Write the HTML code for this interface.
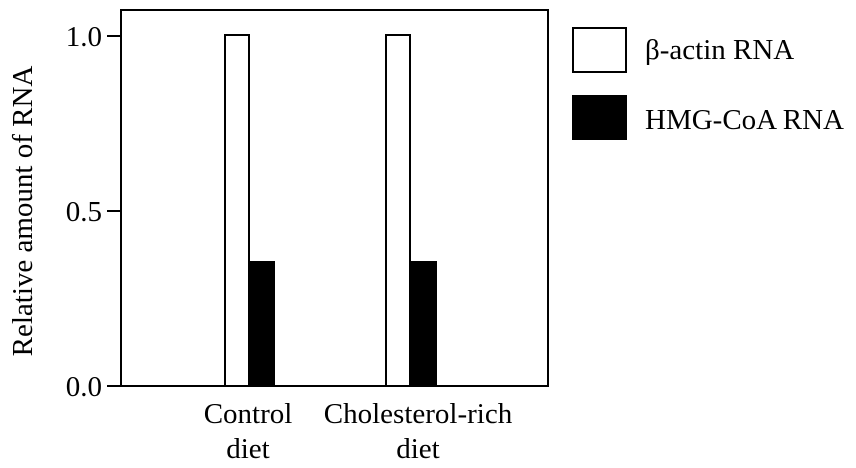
<!DOCTYPE html>
<html><head><style>body{margin:0;background:#fff}</style></head><body>
<svg width="856" height="463" xmlns="http://www.w3.org/2000/svg" font-family="Liberation Serif, serif" font-size="29" fill="#000">
<rect x="121" y="10" width="427" height="376" fill="none" stroke="#000" stroke-width="2"/>
<line x1="107" y1="36" x2="121" y2="36" stroke="#000" stroke-width="2"/>
<line x1="107" y1="211" x2="121" y2="211" stroke="#000" stroke-width="2"/>
<line x1="107" y1="386" x2="121" y2="386" stroke="#000" stroke-width="2"/>
<text x="102" y="46" text-anchor="end">1.0</text>
<text x="102" y="221" text-anchor="end">0.5</text>
<text x="102" y="396" text-anchor="end">0.0</text>
<text transform="translate(32,211) rotate(-90)" text-anchor="middle">Relative amount of RNA</text>
<rect x="225" y="35" width="24" height="351" fill="#fff" stroke="#000" stroke-width="2"/>
<rect x="249" y="261" width="26" height="125" fill="#000"/>
<rect x="386" y="35" width="24" height="351" fill="#fff" stroke="#000" stroke-width="2"/>
<rect x="410" y="261" width="27" height="125" fill="#000"/>
<text x="248" y="423" text-anchor="middle">Control</text>
<text x="248" y="458" text-anchor="middle">diet</text>
<text x="418" y="423" text-anchor="middle">Cholesterol-rich</text>
<text x="418" y="458" text-anchor="middle">diet</text>
<rect x="573" y="28" width="53" height="44" fill="#fff" stroke="#000" stroke-width="2"/>
<rect x="572" y="95" width="55" height="45" fill="#000"/>
<text x="645" y="59">β-actin RNA</text>
<text x="645" y="129">HMG-CoA RNA</text>
</svg>
</body></html>
